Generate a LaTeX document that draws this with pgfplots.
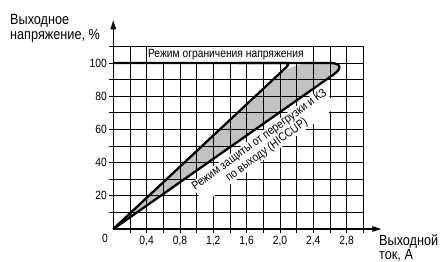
\documentclass[border=0pt]{standalone}
\usepackage{fontspec}
\setmainfont{Liberation Sans}[FakeStretch=0.86]
\usepackage{pgfplots}
\pgfplotsset{compat=1.18}
\usetikzlibrary{arrows.meta}
\begin{document}
\begin{tikzpicture}
\useasboundingbox (-113.3bp,-33bp) rectangle (328.7bp,229bp);
\begin{axis}[
  scale only axis, width=250bp, height=182.6bp,
  xmin=0, xmax=3.0, ymin=0, ymax=110,
  axis lines=left,
  x axis line style={line width=1.4bp, -{Triangle[length=9bp,width=5.5bp]}, shorten >=-18bp},
  y axis line style={line width=1.4bp, -{Triangle[length=9bp,width=5.5bp]}, shorten >=-26bp},
  xtick={0.4,0.8,1.2,1.6,2.0,2.4,2.8},
  minor xtick={0.2,0.6,1.0,1.4,1.8,2.2,2.6,3.0},
  ytick={20,40,60,80,100},
  minor ytick={10,30,50,70,90,110},
  grid=both,
  grid style={black, line width=0.85bp},
  minor grid style={black, line width=0.85bp},
  tick style={black, line width=0.85bp},
  tick align=outside, major tick length=4bp, minor tick length=4bp,
  tick label style={font=\fontsize{12}{13}\selectfont, /pgf/number format/assume math mode=true},
  x tick label style={/pgf/number format/.cd, fixed, fixed zerofill, precision=1, use comma},
  yticklabel style={xshift=1bp},
  clip=false,
]
% shaded region
\addplot[draw=none, fill=black, fill opacity=0.24, rounded corners=20bp] coordinates {(0,0) (2.84,100) (2.13,100) (0,0)};
% text boxes
\fill[white] ([xshift=0.7bp,yshift=1.3bp]axis cs:0.4,100) rectangle ([xshift=-0.7bp,yshift=-0.7bp]axis cs:2.4,110);
\node[anchor=west, inner sep=0pt, font=\fontsize{12}{13}\selectfont] at (axis cs:0.415,105) {Режим ограничения напряжения};
\node[rotate=36, fill=white, inner sep=0.5pt, align=center, font=\fontsize{12}{12.5}\selectfont] at (axis cs:1.80,50.5) {Режим защиты от перегрузки и КЗ\\по выходу (HICCUP)};
% curves
\addplot[black, line width=2.3bp, rounded corners=20bp] coordinates {(0,100) (2.84,100) (0,0)};
\addplot[black, line width=2.3bp, rounded corners=5bp] coordinates {(1.5,100) (2.13,100) (0,0)};
% labels
\node[font=\fontsize{12}{13}\selectfont] at ([xshift=-8.3bp,yshift=-9bp]axis cs:0,0) {0};
\node[anchor=north west, align=left, inner sep=0pt, font=\fontsize{14.8}{15}\selectfont] at ([xshift=-103.3bp,yshift=215bp]axis cs:0,0) {Выходное\\напряжение, \%};
\node[anchor=north west, align=left, inner sep=0pt, font=\fontsize{14.8}{14}\selectfont] at ([xshift=265.7bp,yshift=-5bp]axis cs:0,0) {Выходной\\ток, А};
\end{axis}
\end{tikzpicture}
\end{document}
